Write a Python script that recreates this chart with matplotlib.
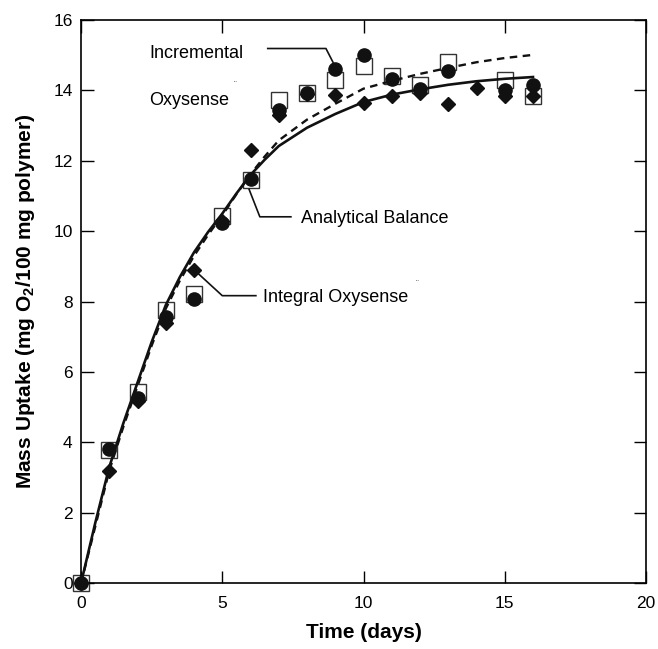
import matplotlib
matplotlib.use("Agg")
from matplotlib import pyplot as plt

plt.rcParams["font.family"] = ["Liberation Sans", "DejaVu Sans"]
plt.rcParams["mathtext.fontset"] = "custom"
plt.rcParams["mathtext.rm"] = "Liberation Sans"
plt.rcParams["mathtext.bf"] = "Liberation Sans:bold"

# data
balance_days = [0, 1, 2, 3, 4, 5, 6, 7, 8, 9, 10, 11, 12, 13, 15, 16]
balance = [0, 3.78, 5.43, 7.76, 8.21, 10.43, 11.45, 13.74, 13.93, 14.3,
           14.68, 14.4, 14.16, 14.8, 14.3, 13.83]

incr_days = [0, 1, 2, 3, 4, 5, 6, 7, 8, 9, 10, 11, 12, 13, 15, 16]
incremental = [0, 3.82, 5.26, 7.55, 8.07, 10.24, 11.48, 13.45, 13.93, 14.62,
               15.01, 14.32, 14.05, 14.54, 14.02, 14.16]

integ_days = [0, 1, 2, 3, 4, 5, 6, 7, 8, 9, 10, 11, 12, 13, 14, 15, 16]
integral = [0, 3.19, 5.19, 7.38, 8.89, 10.3, 12.32, 13.31, 13.9, 13.88,
            13.64, 13.83, 13.93, 13.6, 14.07, 13.83, 13.83]

# fitted curves (read at these times)
solid_t = [0, 0.5, 1, 1.5, 2, 2.5, 3, 3.5, 4, 4.5, 5, 5.5, 6, 6.5, 7,
           8, 9, 10, 11, 12, 13, 14, 15, 16]
solid_y = [0, 1.7, 3.3, 4.55, 5.7, 6.85, 7.9, 8.7, 9.4, 9.98, 10.5, 11.07,
           11.6, 12.03, 12.42, 12.94, 13.33, 13.67, 13.88, 14.03, 14.16,
           14.26, 14.33, 14.38]
dash_t = [0, 0.5, 1, 1.5, 2, 2.5, 3, 3.5, 4, 4.5, 5, 5.5, 6, 6.5, 7,
          8, 9, 10, 11, 12, 13, 14, 15, 15.9]
dash_y = [0, 1.6, 3.2, 4.45, 5.6, 6.75, 7.8, 8.6, 9.3, 9.9, 10.45, 11.05,
          11.62, 12.12, 12.58, 13.17, 13.62, 14.05, 14.27, 14.47, 14.64,
          14.8, 14.92, 15.0]

fig = plt.figure(figsize=(6.58, 6.49), dpi=100)
ax = fig.add_axes([0.1231, 0.1012, 0.8587, 0.868])

ax.plot(balance_days, balance, "s", ms=12, mfc="white", mec="#333333",
        mew=1.0, zorder=2, clip_on=False)
ax.plot(solid_t, solid_y, "-", color="#111111", lw=1.9, zorder=3)
ax.plot(dash_t, dash_y, color="#111111", lw=1.7, ls=(0, (3.2, 2.3)),
        zorder=3)
ax.plot(integ_days, integral, "D", ms=7.5, color="#111111", zorder=4,
        clip_on=False)
ax.plot(incr_days, incremental, "o", ms=9.5, color="#111111", zorder=5,
        clip_on=False)

# labels with leader lines
lk = dict(color="#111111", lw=1.2, zorder=6)
ax.plot([6.61, 8.67, 8.92], [15.19, 15.19, 14.8], **lk)
ax.text(2.42, 15.05, "Incremental", fontsize=13, va="center")
ax.text(2.42, 13.72, "Oxysense", fontsize=13, va="center")
ax.text(5.4, 14.15, "¨", fontsize=6, va="center")

ax.plot([7.43, 6.33, 5.95], [10.41, 10.41, 11.19], **lk)
ax.text(7.79, 10.35, "Analytical Balance", fontsize=13, va="center")

ax.plot([6.19, 5.0, 4.01], [8.17, 8.17, 8.9], **lk)
ax.text(6.43, 8.11, "Integral Oxysense", fontsize=13, va="center")
ax.text(11.85, 8.5, "¨", fontsize=6, va="center")

ax.set_xlim(0, 20)
ax.set_ylim(0, 16)
ax.set_xticks([0, 5, 10, 15, 20])
ax.set_yticks([0, 2, 4, 6, 8, 10, 12, 14, 16])
ax.tick_params(direction="in", length=9, width=1.0, top=True, right=True,
               labelsize=12.5, pad=6)
ax.tick_params(axis="x", pad=9)
for s in ax.spines.values():
    s.set_linewidth(1.2)

ax.set_xlabel("Time (days)", fontsize=15, fontweight="bold", labelpad=9)
ax.set_ylabel(r"Mass Uptake (mg O$_\mathbf{2}$/100 mg polymer)", fontsize=15,
              fontweight="bold", labelpad=12)

fig.savefig("out.png", dpi=100)
